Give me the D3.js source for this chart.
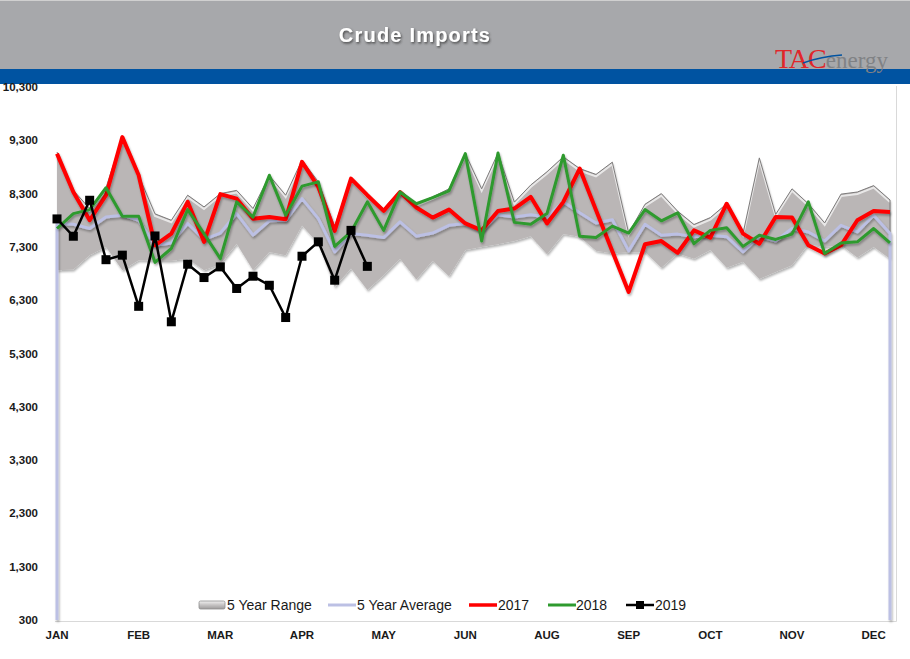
<!DOCTYPE html>
<html>
<head>
<meta charset="utf-8">
<script src="https://cdn.jsdelivr.net/npm/d3@7"></script>
<style>
  body { margin: 0; background: #fff; }
  svg { display: block; }
</style>
</head>
<body>
<svg id="chart"></svg>
<script>
// weekly crude imports (kb/d), 52 weeks
const monthLabels = ["JAN","FEB","MAR","APR","MAY","JUN","AUG","SEP","OCT","NOV","DEC"]
const yTicks = [300,1300,2300,3300,4300,5300,6300,7300,8300,9300,10300]

const rangeHigh = [9080,8360,8020,8410,9360,8640,7920,7800,8270,8050,8300,8360,8020,8640,8270,8930,8520,7680,8610,8270,
  8020,8360,8110,8240,8390,9050,8390,9060,8140,8460,8710,8990,8770,8660,8890,7560,8100,8300,7970,7720,
  7850,8110,7550,8970,7910,8390,8110,7750,8290,8330,8450,8180]
const rangeLow = [6860,6875,7145,7300,6860,7050,7040,7040,7080,6860,6975,7360,6860,7205,7145,7700,7360,6550,6895,6490,
  6770,7080,6690,7040,6750,7240,7300,7350,7410,7500,7160,7540,7490,7230,7175,7200,7205,6910,7175,7080,
  7240,6910,7020,6700,6830,6955,7350,7300,7330,7100,7300,7080]
const avg5 = [7740,7725,7645,7860,7895,7800,7330,7375,7740,7440,7560,7925,7520,7790,7800,8205,7830,7205,7550,7520,
  7475,7770,7500,7560,7705,7740,7610,7905,7860,7905,7860,8145,7940,7750,7810,7225,7725,7520,7540,7490,
  7520,7490,7205,7500,7410,7645,7580,7410,7705,7580,7895,7550]
const y2017 = [9050,8330,7800,8270,9360,8645,7330,7550,8145,7395,8290,8205,7830,7860,7820,8895,8425,7600,8580,8270,
  7975,8330,8040,7850,8000,7740,7610,7975,8020,8240,7740,8145,8770,7990,7220,6455,7350,7410,7190,7610,
  7475,8110,7550,7360,7860,7850,7330,7175,7330,7800,7975,7955]
const y2018 = [7645,7925,8000,8410,7875,7875,7010,7270,8000,7550,7080,8145,7860,8645,7895,8440,8520,7310,7580,8145,
  7610,8330,8110,8225,8350,9050,7410,9060,7760,7725,7925,9020,7500,7475,7690,7560,8000,7790,7940,7360,
  7610,7660,7310,7520,7440,7540,8145,7175,7375,7395,7645,7375]
const y2019 = [7825,7500,8175,7060,7145,6185,7505,5895,6975,6725,6925,6520,6750,6580,5975,7125,7395,6675,7610,6935]

const W = 910, H = 659

const svg = d3.select("#chart").attr("width", W).attr("height", H)

const defs = svg.append("defs")
const shadow = defs.append("filter").attr("id", "shadow")
    .attr("x", "-5%").attr("y", "-20%").attr("width", "110%").attr("height", "140%")
shadow.append("feDropShadow").attr("dx", 1).attr("dy", 2).attr("stdDeviation", 1.2)
    .attr("flood-color", "#000").attr("flood-opacity", 0.3)

const titleShadow = defs.append("filter").attr("id", "tshadow")
titleShadow.append("feDropShadow").attr("dx", 1).attr("dy", 1.5).attr("stdDeviation", 0.8)
    .attr("flood-color", "#333").attr("flood-opacity", 0.8)

const bandGrad = defs.append("linearGradient").attr("id", "bandGrad")
    .attr("x1", 0).attr("y1", 0).attr("x2", 0).attr("y2", 1)
bandGrad.append("stop").attr("offset", "0%").attr("stop-color", "#f2f2f2")
bandGrad.append("stop").attr("offset", "45%").attr("stop-color", "#c9c7c7")
bandGrad.append("stop").attr("offset", "100%").attr("stop-color", "#9d9b9b")

// header
svg.append("rect").attr("x", 0).attr("y", 0).attr("width", W).attr("height", 69).attr("fill", "#a7a8ab")
svg.append("rect").attr("x", 0).attr("y", 69).attr("width", W).attr("height", 15).attr("fill", "#0053a1")
svg.append("line").attr("x1", 0).attr("x2", W).attr("y1", 0.5).attr("y2", 0.5).attr("stroke", "#d0d0d0")

svg.append("text")
    .attr("x", 415).attr("y", 42)
    .attr("text-anchor", "middle")
    .style("font-family", "'Liberation Sans', Arial, sans-serif")
    .style("font-weight", "bold")
    .style("font-size", "20px")
    .style("letter-spacing", "1.2px")
    .attr("fill", "#fff")
    .attr("filter", "url(#tshadow)")
    .text("Crude Imports")

// logo
const logo = svg.append("text")
    .attr("x", 775).attr("y", 68)
    .style("font-family", "'Liberation Serif', 'DejaVu Serif', serif")
logo.append("tspan").attr("fill", "#e1262a").style("font-size", "28px").style("letter-spacing", "-1px").text("TAC")
logo.append("tspan").attr("fill", "#808285").style("font-size", "23px").text("energy")
svg.append("path")
    .attr("d", "M803,63 C814,59 826,56 842,55")
    .attr("fill", "none").attr("stroke", "#0053a1").attr("stroke-width", 1.5)

// scales
const x = d3.scaleLinear().domain([0, 51]).range([57, 890])
const y = d3.scaleLinear().domain([300, 10300]).range([620, 87])

// plot frame
svg.append("path")
    .attr("d", `M55,621.5 H896.5 V86`)
    .attr("fill", "none").attr("stroke", "#d9d9d9").attr("stroke-width", 1)

// y axis labels
svg.append("g")
    .selectAll("text")
    .data(yTicks)
    .join("text")
    .attr("x", 38)
    .attr("y", d => y(d))
    .attr("dy", "0.35em")
    .attr("text-anchor", "end")
    .style("font-family", "'Liberation Sans', Arial, sans-serif")
    .style("font-weight", "bold")
    .style("font-size", "11.5px")
    .attr("fill", "#1a1a1a")
    .text(d => d3.format(",")(d))

// x axis labels, one every 5 weeks
svg.append("g")
    .selectAll("text")
    .data(monthLabels)
    .join("text")
    .attr("x", (d, i) => x(i * 5))
    .attr("y", 639)
    .attr("text-anchor", "middle")
    .style("font-family", "'Liberation Sans', Arial, sans-serif")
    .style("font-weight", "bold")
    .style("font-size", "11.5px")
    .attr("fill", "#1a1a1a")
    .text(d => d)

const weeks = d3.range(52)

// 5 year range band
const band = d3.area()
    .x(i => x(i))
    .y0(i => y(rangeLow[i]))
    .y1(i => y(rangeHigh[i]))
svg.append("path")
    .datum(weeks)
    .attr("d", band)
    .attr("fill", "#bab6b6")
    .attr("filter", "url(#shadow)")

const topEdge = d3.line().x(i => x(i)).y(i => y(rangeHigh[i]))
svg.append("path").datum(weeks).attr("d", topEdge)
    .attr("fill", "none").attr("stroke", "#f4f4f4").attr("stroke-width", 2).attr("opacity", 0.8)
    .attr("transform", "translate(0,2)")
svg.append("path").datum(weeks).attr("d", topEdge)
    .attr("fill", "none").attr("stroke", "#7d7b7b").attr("stroke-width", 1)
svg.append("line")
    .attr("x1", x(51)).attr("x2", x(51))
    .attr("y1", y(rangeHigh[51])).attr("y2", y(rangeLow[51]))
    .attr("stroke", "#7d7b7b").attr("stroke-width", 1)

// 5 year average, drawn like an area outline (drops to the base at both ends)
const avgPts = [[x(0), y(300)]].concat(weeks.map(i => [x(i), y(avg5[i])]), [[x(51), y(300)]])
svg.append("path")
    .attr("d", d3.line()(avgPts))
    .attr("fill", "none")
    .attr("stroke", "#bcc0e4")
    .attr("stroke-width", 3)
    .attr("stroke-linejoin", "round")
    .attr("filter", "url(#shadow)")

const line = d3.line().x((d, i) => x(i)).y(d => y(d))

svg.append("path").datum(y2017).attr("d", line)
    .attr("fill", "none").attr("stroke", "#ff0000").attr("stroke-width", 4)
    .attr("stroke-linejoin", "round").attr("filter", "url(#shadow)")

svg.append("path").datum(y2018).attr("d", line)
    .attr("fill", "none").attr("stroke", "#2e9a2e").attr("stroke-width", 3)
    .attr("stroke-linejoin", "round").attr("filter", "url(#shadow)")

svg.append("path").datum(y2019).attr("d", line)
    .attr("fill", "none").attr("stroke", "#000").attr("stroke-width", 2.5)
    .attr("stroke-linejoin", "round")

svg.append("g")
    .selectAll("rect")
    .data(y2019)
    .join("rect")
    .attr("x", (d, i) => x(i) - 4.5)
    .attr("y", d => y(d) - 4.5)
    .attr("width", 9)
    .attr("height", 9)
    .attr("fill", "#000")

// legend
const legendFont = "'Liberation Sans', Arial, sans-serif"
const ly = 605
const lg = svg.append("g")

lg.append("rect").attr("x", 199).attr("y", ly - 4).attr("width", 26).attr("height", 8)
    .attr("rx", 1.5).attr("fill", "url(#bandGrad)").attr("stroke", "#8f8f8f").attr("stroke-width", 0.8)

const legendItems = [
  {name: "5 Year Range", tx: 227},
  {name: "5 Year Average", tx: 357, color: "#bcc0e4", w: 3, x0: 328},
  {name: "2017", tx: 498, color: "#ff0000", w: 3.5, x0: 469},
  {name: "2018", tx: 576, color: "#2e9a2e", w: 3, x0: 548},
  {name: "2019", tx: 655, color: "#000", w: 2.5, x0: 626}
]

legendItems.filter(d => d.color).forEach(d => {
  lg.append("line").attr("x1", d.x0).attr("x2", d.x0 + 28).attr("y1", ly).attr("y2", ly)
      .attr("stroke", d.color).attr("stroke-width", d.w)
})
lg.append("rect").attr("x", 636).attr("y", ly - 4).attr("width", 8).attr("height", 8).attr("fill", "#000")

lg.selectAll("text")
    .data(legendItems)
    .join("text")
    .attr("x", d => d.tx)
    .attr("y", ly)
    .attr("dy", "0.35em")
    .style("font-family", legendFont)
    .style("font-size", "14px")
    .attr("fill", "#1a1a1a")
    .text(d => d.name)
</script>
</body>
</html>
